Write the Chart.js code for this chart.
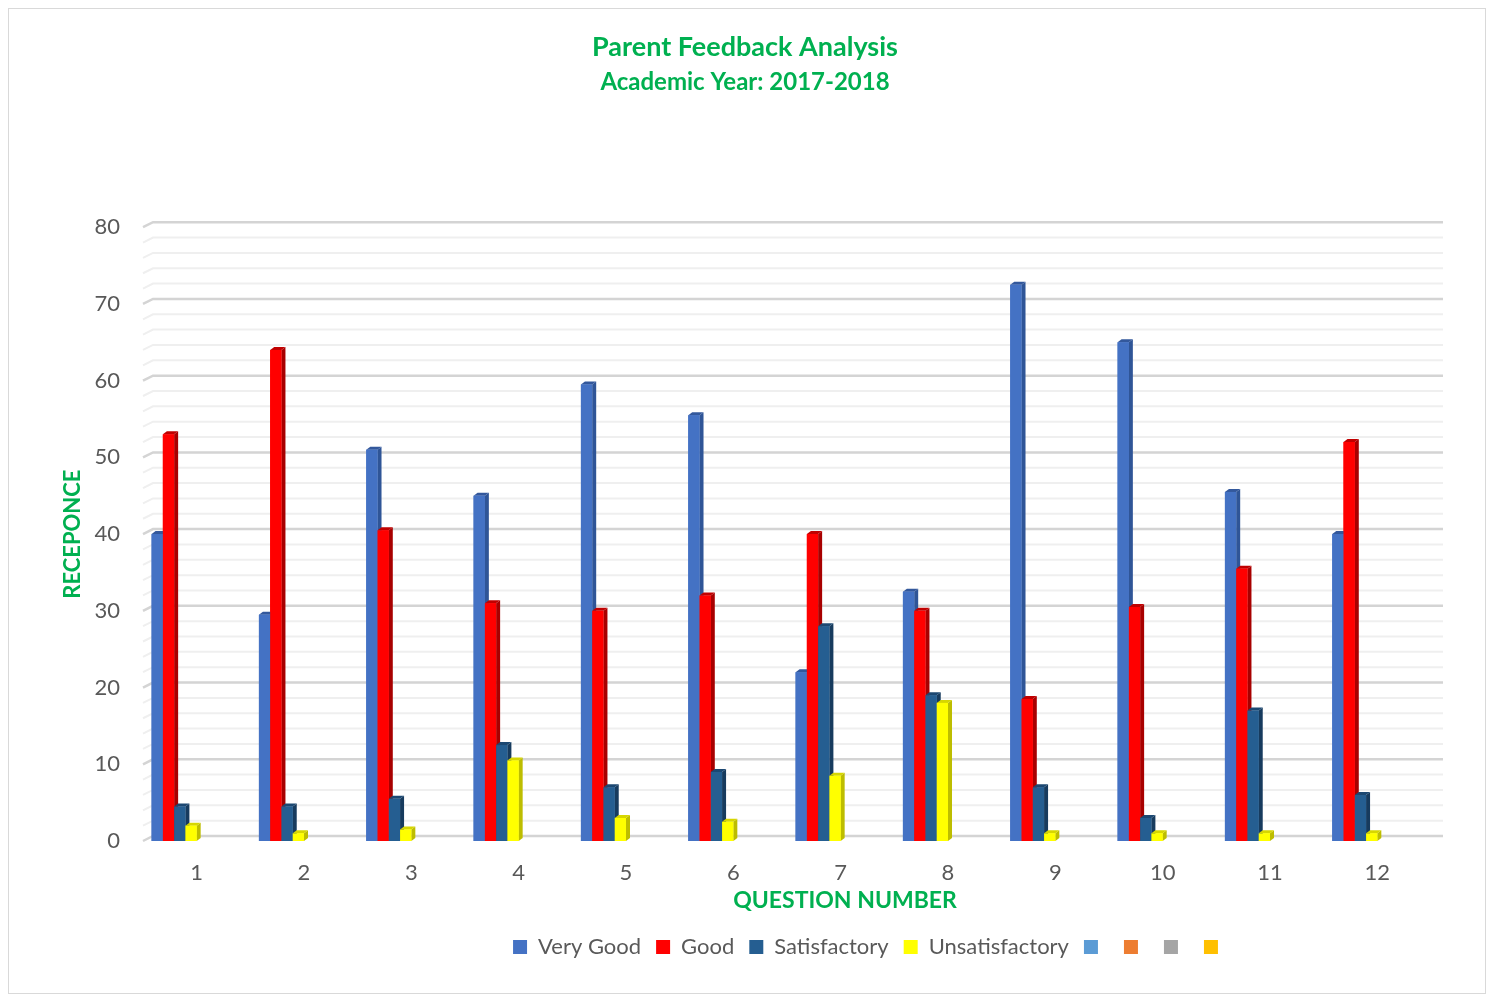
<!DOCTYPE html>
<html>
<head>
<meta charset="utf-8">
<title>Parent Feedback Analysis</title>
<script src="https://cdn.jsdelivr.net/npm/chart.js@4.4.0/dist/chart.umd.min.js"></script>
<style>
  html, body { margin: 0; padding: 0; background: #fff; }
  #wrap { position: absolute; left: 0; top: 0; width: 1490px; height: 996px; }
  #frame { position: absolute; left: 8px; top: 8px; width: 1476px; height: 984px; border: 1px solid #d9d9d9; pointer-events: none; }
</style>
</head>
<body>
<div id="wrap">
  <canvas id="feedbackChart" width="1490" height="996"></canvas>
  <div id="frame"></div>
</div>
<script>
// data
const questions = ['1', '2', '3', '4', '5', '6', '7', '8', '9', '10', '11', '12'];
const veryGood = [40, 29.5, 51, 45, 59.5, 55.5, 22, 32.5, 72.5, 65, 45.5, 40];
const good = [53, 64, 40.5, 31, 30, 32, 40, 30, 18.5, 30.5, 35.5, 52];
const satisfactory = [4.5, 4.5, 5.5, 12.5, 7, 9, 28, 19, 7, 3, 17, 6];
const unsatisfactory = [2, 1, 1.5, 10.5, 3, 2.5, 8.5, 18, 1, 1, 1, 1];
const yMax = 80;
const yMajor = 10;
const yMinor = 2;

const GREEN = '#00B050';
const GREY = '#595959';
const FONT = 'Lato, "Open Sans", sans-serif';

// 3D depth of the walls and of the columns
const WALL_DX = 10, WALL_DY = 5;
const BAR_DX = 4, BAR_DY = 3;
const LEGEND_SHIFT = 126;

// back wall with its major / minor lines
const wallGrid = {
  id: 'wallGrid',
  beforeDatasetsDraw(chart) {
    const { ctx, chartArea, scales: { y } } = chart;
    ctx.save();
    for (let v = 0; v <= yMax; v += yMinor) {
      const py = y.getPixelForValue(v);
      const major = v % yMajor === 0;
      ctx.strokeStyle = major ? '#d4d4d4' : '#efefef';
      ctx.lineWidth = major ? 2.5 : 2;
      ctx.beginPath();
      ctx.moveTo(chartArea.left, py);
      ctx.lineTo(chartArea.left + WALL_DX, py - WALL_DY);
      ctx.lineTo(chartArea.right + 12, py - WALL_DY);
      ctx.stroke();
    }
    ctx.restore();
  }
};

// redraw each column with a side and a top face, left to right
const bar3d = {
  id: 'bar3d',
  afterDatasetsDraw(chart) {
    const ctx = chart.ctx;
    const sets = chart.data.datasets;
    ctx.save();
    for (let j = 0; j < chart.data.labels.length; j++) {
      sets.forEach((ds, i) => {
        const el = chart.getDatasetMeta(i).data[j];
        if (!el) return;
        const { x, y, base, width } = el.getProps(['x', 'y', 'base', 'width'], true);
        if (isNaN(y)) return;
        const l = x - width / 2, r = x + width / 2;
        ctx.fillStyle = ds.sideColor;
        ctx.beginPath();
        ctx.moveTo(r, y);
        ctx.lineTo(r + BAR_DX, y - BAR_DY);
        ctx.lineTo(r + BAR_DX, base - BAR_DY);
        ctx.lineTo(r, base);
        ctx.closePath();
        ctx.fill();
        ctx.fillStyle = ds.topColor;
        ctx.beginPath();
        ctx.moveTo(l, y);
        ctx.lineTo(l + BAR_DX, y - BAR_DY);
        ctx.lineTo(r + BAR_DX, y - BAR_DY);
        ctx.lineTo(r, y);
        ctx.closePath();
        ctx.fill();
        ctx.fillStyle = ds.backgroundColor;
        ctx.fillRect(l, y, width, base - y);
      });
    }
    ctx.restore();
  }
};

// legend and x axis title sit right of the centre, as in the original
const offsets = {
  id: 'offsets',
  afterLayout(chart) {
    chart.legend.left += LEGEND_SHIFT;
    chart.legend.right += LEGEND_SHIFT;
  },
  afterDraw(chart) {
    const ctx = chart.ctx;
    ctx.save();
    ctx.fillStyle = GREEN;
    ctx.font = 'bold 23px ' + FONT;
    ctx.textAlign = 'center';
    ctx.textBaseline = 'middle';
    ctx.fillText('QUESTION NUMBER', 845, 901);
    ctx.restore();
  }
};

const ctx = document.getElementById('feedbackChart').getContext('2d');
new Chart(ctx, {
  type: 'bar',
  data: {
    labels: questions,
    datasets: [
      { label: 'Very Good', data: veryGood, backgroundColor: '#4472C4', sideColor: '#2F5597', topColor: '#33589c' },
      { label: 'Good', data: good, backgroundColor: '#FF0000', sideColor: '#A80000', topColor: '#C00000' },
      { label: 'Satisfactory', data: satisfactory, backgroundColor: '#255E91', sideColor: '#173B5E', topColor: '#1C4872' },
      { label: 'Unsatisfactory', data: unsatisfactory, backgroundColor: '#FFFF00', sideColor: '#BDBD00', topColor: '#D6D600' },
      { label: '', data: [], backgroundColor: '#5B9BD5' },
      { label: '', data: [], backgroundColor: '#ED7D31' },
      { label: '', data: [], backgroundColor: '#A5A5A5' },
      { label: '', data: [], backgroundColor: '#FFC000' }
    ]
  },
  options: {
    responsive: false,
    animation: false,
    devicePixelRatio: 1,
    layout: { padding: { left: 0, right: 0, top: 20, bottom: 28 } },
    datasets: { bar: { categoryPercentage: 0.84, barPercentage: 1 } },
    plugins: {
      title: {
        display: true,
        text: 'Parent Feedback Analysis',
        color: GREEN,
        font: { family: FONT, size: 27, weight: 'bold' },
        padding: { top: 11, bottom: 4 }
      },
      subtitle: {
        display: true,
        text: 'Academic Year: 2017-2018',
        color: GREEN,
        font: { family: FONT, size: 24, weight: 'bold' },
        padding: { top: 0, bottom: 131 }
      },
      legend: {
        position: 'bottom',
        labels: {
          boxWidth: 14,
          boxHeight: 14,
          padding: 15,
          color: GREY,
          font: { family: FONT, size: 22 }
        }
      },
      tooltip: { enabled: false }
    },
    scales: {
      x: {
        grid: { display: false },
        border: { display: false },
        ticks: { color: GREY, font: { family: FONT, size: 22 }, padding: 11 },
        afterFit: s => { s.height = 80; }
      },
      y: {
        min: 0,
        max: yMax,
        grid: { display: false },
        border: { display: false },
        ticks: { stepSize: yMajor, color: GREY, font: { family: FONT, size: 22 }, padding: 15 },
        title: {
          display: true,
          text: 'RECEPONCE',
          color: GREEN,
          font: { family: FONT, size: 22, weight: 'bold' },
          padding: { top: 60, bottom: 0 }
        },
        afterFit: s => { s.width = 143; }
      },
      // empty right-hand band, keeps the plot clear of the right edge
      yRight: {
        position: 'right',
        display: true,
        grid: { display: false },
        border: { display: false },
        ticks: { display: false },
        afterFit: s => { s.width = 59; }
      }
    }
  },
  plugins: [wallGrid, bar3d, offsets]
});
</script>
</body>
</html>
